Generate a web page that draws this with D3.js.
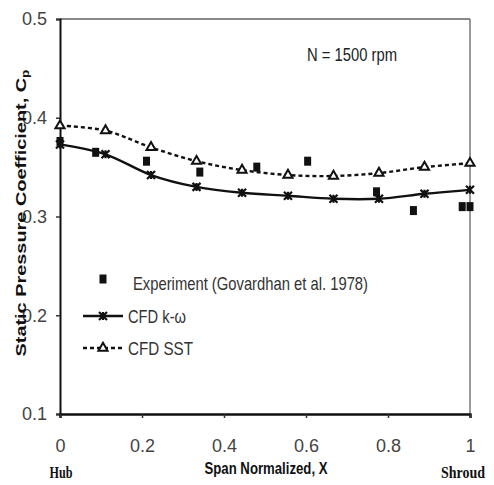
<!DOCTYPE html>
<html>
<head>
<meta charset="utf-8">
<script src="https://cdn.jsdelivr.net/npm/d3@7"></script>
<style>
  body { margin: 0; background: #fff; }
  svg { display: block; }
  .tick text { fill: #444; font-family: "Liberation Sans Narrow", "Arial Narrow", "Liberation Sans", sans-serif; font-size: 18px; }
</style>
</head>
<body>
<svg width="494" height="485"></svg>
<script>
// span positions (normalized), 10 CFD stations
var spanX = [0, 0.111, 0.222, 0.333, 0.444, 0.556, 0.667, 0.778, 0.889, 1];
var cpKw  = [0.373, 0.363, 0.342, 0.330, 0.324, 0.321, 0.318, 0.318, 0.323, 0.327];
var cpSst = [0.392, 0.387, 0.370, 0.356, 0.347, 0.342, 0.341, 0.344, 0.350, 0.354];

// experiment (Govardhan et al. 1978)
var expX  = [0, 0.087, 0.211, 0.341, 0.480, 0.604, 0.772, 0.862, 0.981, 1];
var expCp = [0.376, 0.365, 0.356, 0.345, 0.350, 0.356, 0.325, 0.306, 0.310, 0.310];

var xTicks = [0, 0.2, 0.4, 0.6, 0.8, 1];
var yTicks = [0.1, 0.2, 0.3, 0.4, 0.5];

var svg = d3.select("svg");
var narrow = "'Liberation Sans Narrow', 'Arial Narrow', 'Liberation Sans', sans-serif";

var x = d3.scaleLinear().domain([0, 1]).range([60, 470]);
var y = d3.scaleLinear().domain([0.1, 0.5]).range([414, 19]);

// frame: grey top/right
svg.append("line").attr("x1", 60).attr("x2", 470).attr("y1", y(0.5)).attr("y2", y(0.5))
  .attr("stroke", "#888").attr("stroke-width", 2);
svg.append("line").attr("x1", x(1)).attr("x2", x(1)).attr("y1", y(0.5)).attr("y2", y(0.1))
  .attr("stroke", "#777").attr("stroke-width", 1.5);

var yAxis = svg.append("g")
  .attr("transform", "translate(60,0)")
  .call(d3.axisLeft(y).tickValues(yTicks).tickSize(4).tickPadding(9).tickFormat(d3.format(".1f")));
yAxis.select(".domain").attr("stroke", "#111").attr("stroke-width", 2);
yAxis.selectAll(".tick line").attr("stroke", "#333").attr("stroke-width", 1.5);

var xAxis = svg.append("g")
  .attr("transform", "translate(0,414)")
  .call(d3.axisBottom(x).tickValues(xTicks).tickSize(4).tickPadding(21).tickFormat(function(d) { return d3.format("")(+d.toFixed(1)); }));
xAxis.select(".domain").attr("stroke", "#111").attr("stroke-width", 2.5);
xAxis.selectAll(".tick line").attr("stroke", "#333").attr("stroke-width", 1.5);

var kwData = spanX.map(function(d, i) { return [d, cpKw[i]]; });
var sstData = spanX.map(function(d, i) { return [d, cpSst[i]]; });

var line = d3.line()
  .x(function(d) { return x(d[0]); })
  .y(function(d) { return y(d[1]); })
  .curve(d3.curveCatmullRom.alpha(0.5));

svg.append("path").datum(sstData).attr("d", line)
  .attr("fill", "none").attr("stroke", "#111").attr("stroke-width", 2.4).attr("stroke-dasharray", "4,3");
svg.append("path").datum(kwData).attr("d", line)
  .attr("fill", "none").attr("stroke", "#111").attr("stroke-width", 2.4);

// star marker = X with vertical bar
var star = {
  draw: function(context, size) {
    var r = Math.sqrt(size) / 2;
    context.moveTo(-r, -r); context.lineTo(r, r);
    context.moveTo(r, -r); context.lineTo(-r, r);
    context.moveTo(0, -r); context.lineTo(0, r);
  }
};

svg.selectAll(".kw").data(kwData).enter().append("path")
  .attr("transform", function(d) { return "translate(" + x(d[0]) + "," + y(d[1]) + ")"; })
  .attr("d", d3.symbol(star, 64))
  .attr("fill", "none").attr("stroke", "#111").attr("stroke-width", 2.2);

svg.selectAll(".sst").data(sstData).enter().append("path")
  .attr("transform", function(d) { return "translate(" + x(d[0]) + "," + y(d[1]) + ")"; })
  .attr("d", d3.symbol(d3.symbolTriangle, 36))
  .attr("fill", "#fff").attr("stroke", "#111").attr("stroke-width", 2);

svg.selectAll(".exp").data(expX).enter().append("rect")
  .attr("x", function(d) { return x(d) - 3.5; })
  .attr("y", function(d, i) { return y(expCp[i]) - 4.5; })
  .attr("width", 7).attr("height", 9)
  .attr("fill", "#111");

// legend
var leg = svg.append("g");
leg.append("rect").attr("x", 99.5).attr("y", 274.5).attr("width", 7).attr("height", 9).attr("fill", "#111");
leg.append("text").attr("x", 133).attr("y", 290).text("Experiment (Govardhan et al. 1978)")
  .attr("font-family", narrow).attr("font-size", 19).attr("fill", "#333")
  .attr("textLength", 235).attr("lengthAdjust", "spacingAndGlyphs");

leg.append("line").attr("x1", 83).attr("x2", 123).attr("y1", 316).attr("y2", 316)
  .attr("stroke", "#111").attr("stroke-width", 2.4);
leg.append("path").attr("transform", "translate(103,316)").attr("d", d3.symbol(star, 64))
  .attr("fill", "none").attr("stroke", "#111").attr("stroke-width", 2.2);
leg.append("text").attr("x", 128).attr("y", 323).text("CFD k-\u03c9")
  .attr("font-family", narrow).attr("font-size", 19).attr("fill", "#333")
  .attr("textLength", 58).attr("lengthAdjust", "spacingAndGlyphs");

leg.append("line").attr("x1", 83).attr("x2", 123).attr("y1", 348).attr("y2", 348)
  .attr("stroke", "#111").attr("stroke-width", 2.4).attr("stroke-dasharray", "4,3");
leg.append("path").attr("transform", "translate(103,348)").attr("d", d3.symbol(d3.symbolTriangle, 36))
  .attr("fill", "#fff").attr("stroke", "#111").attr("stroke-width", 2);
leg.append("text").attr("x", 128).attr("y", 355).text("CFD SST")
  .attr("font-family", narrow).attr("font-size", 19).attr("fill", "#333")
  .attr("textLength", 65).attr("lengthAdjust", "spacingAndGlyphs");

// annotation
svg.append("text").attr("x", 307).attr("y", 61).text("N = 1500 rpm")
  .attr("font-family", narrow).attr("font-size", 19).attr("fill", "#222")
  .attr("textLength", 90).attr("lengthAdjust", "spacingAndGlyphs");

// axis titles
var yt = svg.append("text")
  .attr("transform", "translate(26,213) rotate(-90)")
  .attr("text-anchor", "middle")
  .attr("font-family", "'Liberation Sans', Arial, sans-serif")
  .attr("font-weight", "bold").attr("font-size", 14.5).attr("fill", "#111")
  .attr("textLength", 287).attr("lengthAdjust", "spacingAndGlyphs");
yt.append("tspan").text("Static Pressure Coefficient, C");
yt.append("tspan").attr("font-size", 10).attr("dy", 3).text("p");

svg.append("text").attr("x", 266).attr("y", 474).attr("text-anchor", "middle")
  .text("Span Normalized, X")
  .attr("font-family", narrow).attr("font-weight", "bold").attr("font-size", 16).attr("fill", "#111")
  .attr("textLength", 123).attr("lengthAdjust", "spacingAndGlyphs");

svg.append("text").attr("x", 61).attr("y", 478).attr("text-anchor", "middle").text("Hub")
  .attr("font-family", "'Liberation Serif', 'Times New Roman', serif").attr("font-weight", "bold")
  .attr("font-size", 16).attr("fill", "#111")
  .attr("textLength", 23).attr("lengthAdjust", "spacingAndGlyphs");
svg.append("text").attr("x", 463).attr("y", 478).attr("text-anchor", "middle").text("Shroud")
  .attr("font-family", "'Liberation Serif', 'Times New Roman', serif").attr("font-weight", "bold")
  .attr("font-size", 16).attr("fill", "#111")
  .attr("textLength", 44).attr("lengthAdjust", "spacingAndGlyphs");
</script>
</body>
</html>
